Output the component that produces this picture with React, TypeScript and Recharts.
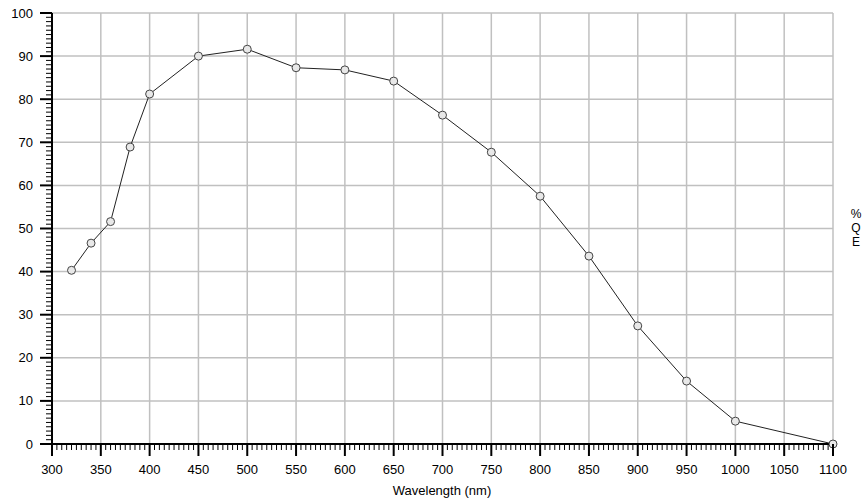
import React from "react";
import { LineChart, Line, XAxis, YAxis, CartesianGrid } from "recharts";

// Quantum efficiency curve
const wavelengths = [320, 340, 360, 380, 400, 450, 500, 550, 600, 650, 700, 750, 800, 850, 900, 950, 1000, 1100];
const qePercent = [40.3, 46.6, 51.6, 68.9, 81.2, 90.0, 91.6, 87.3, 86.8, 84.2, 76.3, 67.7, 57.5, 43.6, 27.4, 14.6, 5.3, 0];

const xMajorTicks = [300, 350, 400, 450, 500, 550, 600, 650, 700, 750, 800, 850, 900, 950, 1000, 1050, 1100];
const yMajorTicks = [0, 10, 20, 30, 40, 50, 60, 70, 80, 90, 100];

// minor tick marks: every 5 nm and every 1 %
const xAllTicks = Array.from({ length: 161 }, (_, i) => 300 + i * 5);
const yAllTicks = Array.from({ length: 101 }, (_, i) => i);

const data = wavelengths.map((w, i) => ({ wl: w, qe: qePercent[i] }));

const FONT = '"Liberation Sans", Arial, sans-serif';

const XTick = (props: any) => {
  const { x, y, payload } = props;
  const v = payload.value;
  const major = v % 50 === 0;
  return (
    <g>
      <line x1={x} x2={x} y1={y} y2={y + (major ? 12 : 6)} stroke="#000" strokeWidth={major ? 2 : 1} />
      {major && (
        <text x={x} y={y + 25} textAnchor="middle" dominantBaseline="central" fontSize={13} fontFamily={FONT} fill="#000">
          {v}
        </text>
      )}
    </g>
  );
};

const YTick = (props: any) => {
  const { x, y, payload } = props;
  const v = payload.value;
  const major = v % 10 === 0;
  return (
    <g>
      <line x1={x} x2={x - (major ? 12 : 6)} y1={y} y2={y} stroke="#000" strokeWidth={major ? 2 : 1} />
      {major && (
        <text x={x - 19} y={y} textAnchor="end" dominantBaseline="central" fontSize={13} fontFamily={FONT} fill="#000">
          {v}
        </text>
      )}
    </g>
  );
};

export default function App() {
  return (
    <div style={{ position: "absolute", left: 0, top: 0, width: 867, height: 504, background: "#fff", fontFamily: FONT }}>
      <LineChart width={867} height={504} data={data} margin={{ top: 13, right: 34, bottom: 0, left: 0 }}>
        <CartesianGrid
          stroke="#c0c0c0"
          strokeWidth={1.5}
          horizontalValues={yMajorTicks}
          verticalValues={xMajorTicks}
        />
        <XAxis
          dataKey="wl"
          type="number"
          domain={[300, 1100]}
          ticks={xAllTicks}
          interval={0}
          height={60}
          tickSize={0}
          tickMargin={0}
          tickLine={false}
          tick={<XTick />}
          axisLine={{ stroke: "#000", strokeWidth: 2 }}
        />
        <YAxis
          type="number"
          domain={[0, 100]}
          ticks={yAllTicks}
          interval={0}
          width={52}
          tickSize={0}
          tickMargin={0}
          tickLine={false}
          tick={<YTick />}
          axisLine={{ stroke: "#000", strokeWidth: 2 }}
        />
        <Line
          dataKey="qe"
          type="linear"
          stroke="#222"
          strokeWidth={1}
          dot={{ r: 4, stroke: "#444", strokeWidth: 1, fill: "#e8e8e8" }}
          isAnimationActive={false}
        />
      </LineChart>
      <div style={{ position: "absolute", left: 0, width: 884, top: 483, textAlign: "center", fontSize: 13, color: "#000" }}>
        Wavelength (nm)
      </div>
      <div style={{ position: "absolute", left: 848, width: 16, top: 207, textAlign: "center", fontSize: 12, lineHeight: "14px", color: "#000" }}>
        <div>%</div>
        <div>Q</div>
        <div>E</div>
      </div>
    </div>
  );
}
